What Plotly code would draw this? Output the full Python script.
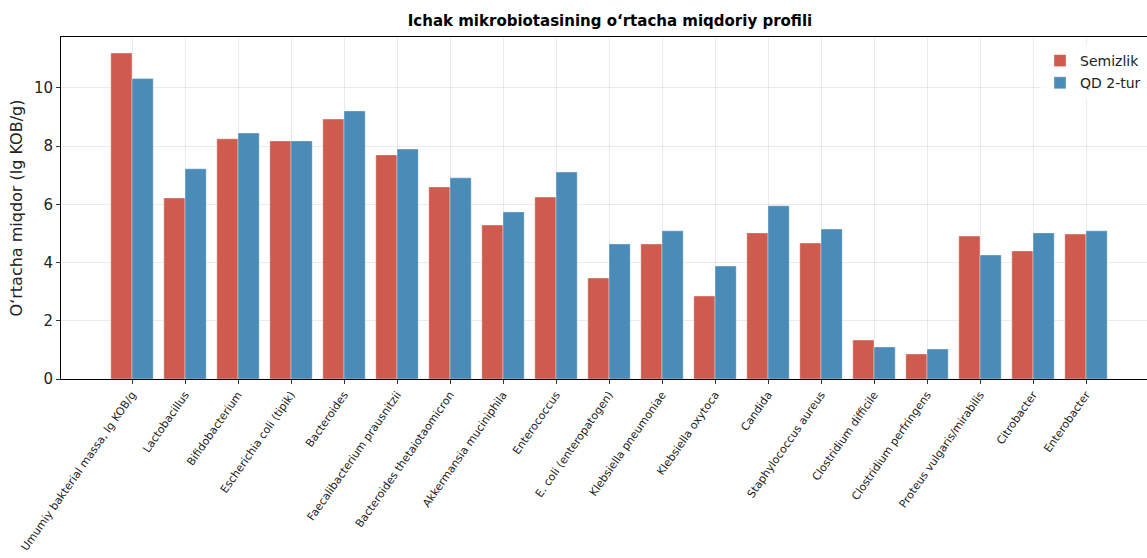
import plotly.graph_objects as go

categories = [
    "Umumiy bakterial massa, lg KOB/g", "Lactobacillus", "Bifidobacterium",
    "Escherichia coli (tipik)", "Bacteroides", "Faecalibacterium prausnitzii",
    "Bacteroides thetaiotaomicron", "Akkermansia muciniphila", "Enterococcus",
    "E. coli (enteropatogen)", "Klebsiella pneumoniae", "Klebsiella oxytoca",
    "Candida", "Staphylococcus aureus", "Clostridium difficile",
    "Clostridium perfringens", "Proteus vulgaris/mirabilis", "Citrobacter",
    "Enterobacter",
]
semizlik = [11.2, 6.22, 8.25, 8.18, 8.93, 7.70, 6.60, 5.29, 6.25, 3.47,
            4.64, 2.85, 5.02, 4.67, 1.34, 0.86, 4.91, 4.40, 4.98]
qd2 = [10.32, 7.22, 8.45, 8.18, 9.21, 7.90, 6.91, 5.74, 7.11, 4.64,
       5.09, 3.88, 5.95, 5.15, 1.10, 1.03, 4.26, 5.02, 5.09]
series_names = ["Semizlik", "QD 2-tur"]

FONT = "DejaVu Sans"

fig = go.Figure()
fig.add_trace(go.Bar(x=categories, y=semizlik, name=series_names[0],
                     marker=dict(color="#cd5c4f", line=dict(color="rgba(255,255,255,0.6)", width=0.6)),
                     legendgroup="a"))
fig.add_trace(go.Bar(x=categories, y=qd2, name=series_names[1],
                     marker=dict(color="#4a8bb8", line=dict(color="rgba(255,255,255,0.6)", width=0.6)),
                     legendgroup="b"))

fig.update_layout(
    width=1147, height=558,
    margin=dict(l=61, r=0, t=37, b=179, autoexpand=False),
    paper_bgcolor="white", plot_bgcolor="white",
    barmode="group", bargap=0.2, bargroupgap=0,
    font=dict(family=FONT, color="#222"),
    title=dict(text="<b>Ichak mikrobiotasining o‘rtacha miqdoriy profili</b>",
               x=(610 - 61) / 1086, xref="paper", xanchor="center",
               y=1 - 21 / 558, yref="container", yanchor="middle",
               font=dict(family=FONT, size=15, color="black")),
    legend=dict(x=(1040 - 61) / 1086, xanchor="left", y=1 - 8 / 342, yanchor="top",
                font=dict(family=FONT, size=14, color="#222"),
                bgcolor="rgba(255,255,255,0.8)", tracegroupgap=1),
    showlegend=True,
)
fig.update_xaxes(
    range=[-71 / 53, (1147 - 132) / 53], automargin=False,
    tickangle=-55, tickfont=dict(family=FONT, size=11, color="#222"),
    showgrid=True, gridcolor="rgba(0,0,0,0.08)", gridwidth=1,
    showline=True, linecolor="black", linewidth=1, mirror=True,
    ticks="outside", ticklen=4, tickcolor="#333",
)
fig.update_yaxes(
    range=[0, 11.75], tickvals=[0, 2, 4, 6, 8, 10], automargin=False,
    tickfont=dict(family=FONT, size=15, color="#222"),
    title=dict(text="O‘rtacha miqdor (lg KOB/g)", font=dict(family=FONT, size=16, color="#222"), standoff=7),
    showgrid=True, gridcolor="rgba(0,0,0,0.08)", gridwidth=1,
    showline=True, linecolor="black", linewidth=1, mirror=True,
    ticks="outside", ticklen=4, tickcolor="#333", zeroline=False,
)

fig.write_html(
    "out.html",
    config={"displayModeBar": False},
    post_script="document.body.style.margin='0';document.body.style.overflow='hidden';",
)
